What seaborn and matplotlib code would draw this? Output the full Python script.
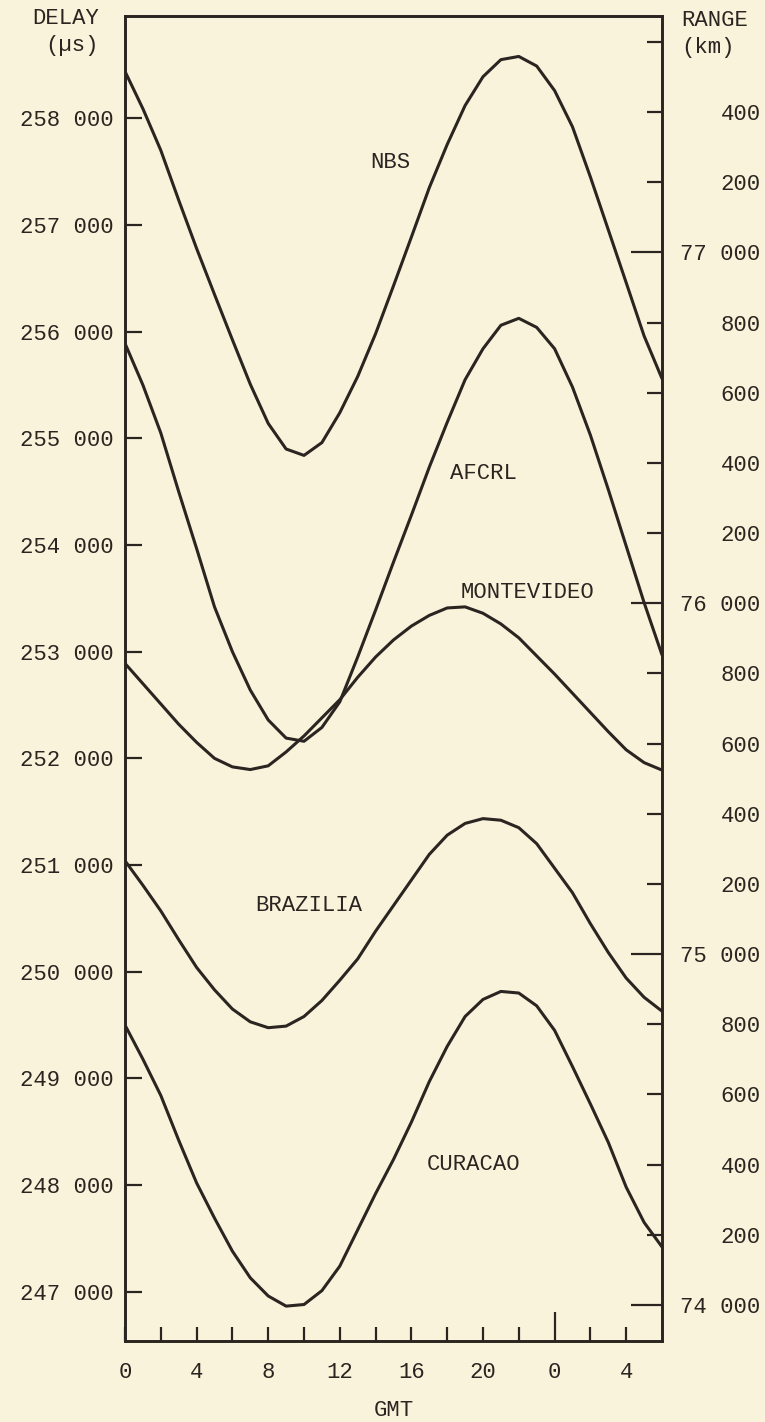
import matplotlib
matplotlib.use("Agg")
import matplotlib.pyplot as plt
import numpy as np
import pandas as pd
import seaborn as sns
from matplotlib.ticker import FixedLocator, FixedFormatter

# ---------------- data ----------------
hours = list(range(0, 31))

nbs = [258440, 258090, 257700, 257233, 256780, 256349, 255924, 255507, 255140, 254900,
       254840, 254960, 255240, 255580, 255981, 256430, 256887, 257350, 257755, 258120,
       258390, 258550, 258580, 258490, 258260, 257920, 257450, 256955, 256459, 255960,
       255560]
afcrl = [255890, 255500, 255050, 254500, 253967, 253420, 253000, 252640, 252360, 252190,
         252160, 252290, 252530, 252950, 253390, 253840, 254280, 254730, 255150, 255550,
         255840, 256060, 256125, 256040, 255840, 255480, 255030, 254520, 253990, 253460,
         252970]
montevideo = [252890, 252700, 252510, 252320, 252150, 252000, 251920, 251895, 251930, 252060,
              252210, 252380, 252550, 252760, 252950, 253110, 253240, 253340, 253410, 253420,
              253360, 253260, 253130, 252960, 252790, 252610, 252430, 252250, 252080, 251960,
              251890]
brazilia = [251040, 250810, 250570, 250300, 250040, 249830, 249650, 249530, 249475, 249490,
            249580, 249730, 249920, 250120, 250380, 250620, 250860, 251100, 251280, 251390,
            251435, 251420, 251350, 251200, 250970, 250740, 250450, 250180, 249940, 249760,
            249630]
curacao = [249500, 249180, 248840, 248420, 248020, 247690, 247380, 247130, 246960, 246865,
           246880, 247010, 247240, 247580, 247920, 248240, 248590, 248970, 249300, 249580,
           249740, 249815, 249800, 249680, 249450, 249110, 248760, 248400, 247980, 247650,
           247420]

stations = ["NBS", "AFCRL", "MONTEVIDEO", "BRAZILIA", "CURACAO"]
label_hour = [14.83, 20.03, 22.49, 10.24, 19.47]
label_delay = [257590, 254675, 253559, 250625, 248197]

delay_ticks = list(range(247000, 259000, 1000))
delay_ticklabels = [f"{v // 1000} 000" for v in delay_ticks]

range_major = [74000, 75000, 76000, 77000]
range_major_labels = ["74 000", "75 000", "76 000", "77 000"]
range_minor = [v for v in range(74200, 77800, 200) if v % 1000 != 0]
range_minor_labels = ["" if v == 77600 else str(v % 1000) for v in range_minor]

gmt_ticks = [0, 4, 8, 12, 16, 20, 24, 28]
gmt_labels = ["0", "4", "8", "12", "16", "20", "0", "4"]
gmt_minor = [2, 6, 10, 14, 18, 22, 26]

# ---------------- style ----------------
BG = "#FAF3DC"
INK = "#2a2520"
sns.set_theme(style="white")
plt.rcParams["font.family"] = ["Liberation Mono", "DejaVu Sans Mono"]
plt.rcParams["text.color"] = INK
FS = 16

fig = plt.figure(figsize=(7.65, 14.22), dpi=100, facecolor=BG)
ax = fig.add_axes([125 / 765, 1 - 1341 / 1422, (662 - 125) / 765, (1341 - 15.7) / 1422])
ax.set_facecolor(BG)

df = pd.DataFrame({
    "GMT": hours * 5,
    "delay": nbs + afcrl + montevideo + brazilia + curacao,
    "station": sum([[s] * len(hours) for s in stations], []),
})
sns.lineplot(data=df, x="GMT", y="delay", hue="station",
             palette=[INK] * 5, linewidth=2.2, legend=False, ax=ax,
             estimator=None, sort=False)
for ln in ax.get_lines():
    ln.set_solid_joinstyle("round")
    ln.set_solid_capstyle("round")

ax.set_xlim(0, 30)
ax.set_ylim(246538, 258962)

for sp in ax.spines.values():
    sp.set_color(INK)
    sp.set_linewidth(1.9)
    sp.set_visible(True)

# x axis
ax.xaxis.set_major_locator(FixedLocator(gmt_ticks))
ax.xaxis.set_major_formatter(FixedFormatter(gmt_labels))
ax.xaxis.set_minor_locator(FixedLocator(gmt_minor))
ax.tick_params(axis="x", which="both", direction="in", bottom=True, top=False,
               length=10, width=1.6, color=INK, labelsize=FS, pad=15, labelcolor=INK)
ax.xaxis.get_major_ticks()[6].tick1line.set_markersize(21)
ax.set_xlabel("GMT", fontsize=FS, color=INK, labelpad=12)

# left y axis
ax.yaxis.set_major_locator(FixedLocator(delay_ticks))
ax.yaxis.set_major_formatter(FixedFormatter(delay_ticklabels))
ax.tick_params(axis="y", which="both", direction="in", left=True, right=False,
               length=12, width=1.6, color=INK, labelsize=FS, pad=8, labelcolor=INK)
ax.set_ylabel("")

# right y axis (range)
ax2 = ax.twinx()
ax2.set_ylim(73897, 77675)
ax2.yaxis.set_major_locator(FixedLocator(range_major))
ax2.yaxis.set_major_formatter(FixedFormatter(range_major_labels))
ax2.yaxis.set_minor_locator(FixedLocator(range_minor))
ax2.yaxis.set_minor_formatter(FixedFormatter(range_minor_labels))
ax2.tick_params(axis="y", which="major", direction="in", right=True, left=False,
                length=22, width=1.6, color=INK, labelsize=FS, pad=71, labelcolor=INK)
ax2.tick_params(axis="y", which="minor", direction="in", right=True, left=False,
                length=11, width=1.6, color=INK, labelsize=FS, pad=71, labelcolor=INK)
for lbl in ax2.get_yticklabels(which="both"):
    lbl.set_horizontalalignment("right")
for sp in ax2.spines.values():
    sp.set_color(INK)
    sp.set_linewidth(1.9)

# station names
for name, hx, dy in zip(stations, label_hour, label_delay):
    ax.text(hx, dy, name, ha="center", va="center", fontsize=FS, color=INK)

# axis titles
fig.text(99 / 765, 1 - 19 / 1422, "DELAY", ha="right", va="center", fontsize=FS, color=INK)
fig.text(99 / 765, 1 - 45 / 1422, "(µs)", ha="right", va="center", fontsize=FS, color=INK)
fig.text(681 / 765, 1 - 20 / 1422, "RANGE", ha="left", va="center", fontsize=FS, color=INK)
fig.text(681 / 765, 1 - 48 / 1422, "(km)", ha="left", va="center", fontsize=FS, color=INK)

fig.savefig("out.png", dpi=100, facecolor=BG)
